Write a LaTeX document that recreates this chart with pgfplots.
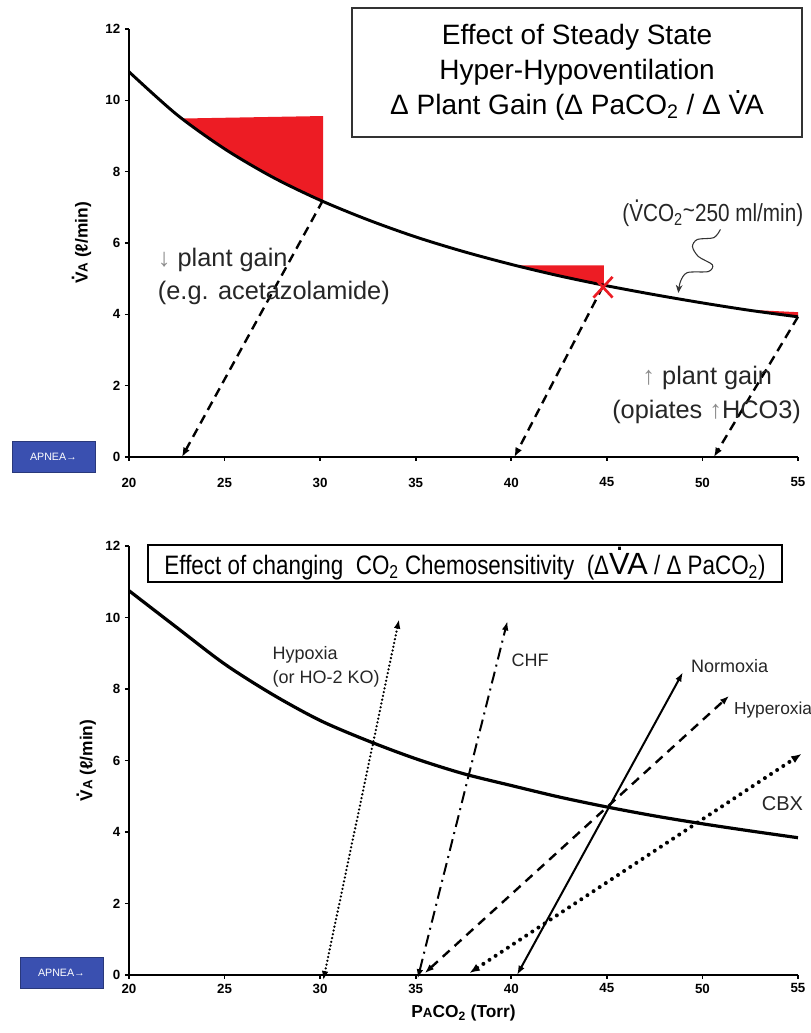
\documentclass[border=0pt]{standalone}
\usepackage{pgfplots}
\pgfplotsset{compat=1.18}
\usepackage{fontspec}
\setmainfont{Liberation Sans}
\newfontfamily\narrowfont[FakeStretch=0.84]{Liberation Sans}
\usetikzlibrary{arrows.meta}
\definecolor{apnea}{RGB}{58,80,176}
\definecolor{pgred}{RGB}{237,28,36}
\newcommand\Vd{\leavevmode\rlap{\hspace{0.2em}\raisebox{0.76em}{.}}V}
\newcommand\ga[1]{\textcolor{black!45}{#1}}
\pgfplotsset{
  myaxis/.style={
    scale only axis, width=501.75pt,
    xmin=20, xmax=55, ymin=0, ymax=12,
    xtick={20,25,...,55}, ytick={0,2,...,12},
    axis lines=left, axis line style={-, line width=1.5pt},
    tick align=outside, major tick length=3pt,
    tick style={line width=1.2pt, black},
    clip=false,
    /pgf/number format/assume math mode=true,
    tick label style={font=\bfseries\fontsize{10}{11}\selectfont},
  }
}
\begin{document}
\begin{tikzpicture}
\useasboundingbox[fill=white] (0,0) rectangle (608.25pt,774.75pt);
% ---------------- top panel ----------------
\begin{axis}[myaxis,
  at={(96.75pt,432pt)}, anchor=south west, height=321pt,
  xticklabel style={yshift=-9pt},
  ylabel={\Vd{\fontsize{10}{11}\selectfont A} (ℓ/min)},
  every axis y label/.style={at={(axis description cs:-0.071,0.5)},rotate=90,anchor=center,font=\bfseries\fontsize{13}{14}\selectfont},
]
% red areas
\addplot[fill=pgred, draw=none] coordinates {(22.8,9.49) (30.15,9.56) (30.15,7.17) (29,7.45) (28,7.71) (27,8.0) (26,8.31) (25,8.64) (24,9.0) (23,9.39)};
\addplot[fill=pgred, draw=none] coordinates {(40.2,5.37) (44.85,5.37) (44.85,4.82) (44,4.91) (43,5.02) (42,5.14) (41,5.27)};
\addplot[fill=pgred, draw=none] coordinates {(52.7,4.12) (55,4.06) (55,3.93) (54,4.0) (53,4.08)};
% curve
\addplot[smooth, line width=2.2pt] coordinates {(20,10.8) (22.5,9.6) (25,8.64) (27.5,7.85) (30,7.2) (32.5,6.65) (35,6.17) (37.5,5.76) (40,5.4) (42.5,5.08) (45,4.8) (47.5,4.55) (50,4.32) (52.5,4.11) (55,3.93)};
% dashed arrows
\addplot[line width=1.8pt, dash pattern=on 7pt off 4.5pt, -{Latex[length=7pt,width=5.5pt]}] coordinates {(30.15,7.2) (22.77,0)};
\addplot[line width=1.8pt, dash pattern=on 7pt off 4.5pt, -{Latex[length=7pt,width=5.5pt]}] coordinates {(44.8,4.79) (40.16,0)};
\addplot[line width=1.8pt, dash pattern=on 7pt off 4.5pt, -{Latex[length=7pt,width=5.5pt]}] coordinates {(55,3.93) (50.6,0)};
% red X
\addplot[pgred, line width=2pt] coordinates {(44.3,5.05) (45.3,4.47)};
\addplot[pgred, line width=2pt] coordinates {(44.3,4.47) (45.3,5.05)};
% squiggle
\addplot[smooth, line width=0.8pt, black!80, -{Stealth[length=6pt,width=5pt]}] coordinates {(50.94,6.38) (50.6,6.15) (49.74,6.10) (49.48,5.90) (49.79,5.62) (50.52,5.39) (50.31,5.20) (49.21,5.17) (48.85,4.92) (48.74,4.60)};
% texts
\node[anchor=west, inner sep=0pt, font=\fontsize{19}{23}\selectfont, text=black!85] at (axis cs:21.5,5.53) {\ga{↓} plant gain};
\node[anchor=west, inner sep=0pt, font=\fontsize{19}{23}\selectfont, text=black!85] at (axis cs:21.5,4.6) {(e.g. acetazolamide)};
\node[anchor=west, inner sep=0pt, font=\fontsize{19}{23}\selectfont, text=black!85] at (axis cs:46.85,2.22) {\ga{↑} plant gain};
\node[anchor=west, inner sep=0pt, font=\fontsize{19}{23}\selectfont, text=black!85] at (axis cs:45.27,1.26) {(opiates \ga{↑}HCO3)};
\node[anchor=west, inner sep=0pt, font=\narrowfont\fontsize{18.5}{22}\selectfont, text=black!85] at (axis cs:45.8,6.84) {(\Vd CO\textsubscript{2}\raisebox{0.1em}{\textasciitilde}250 ml/min)};
\node[draw=black!80, line width=1.3pt, fill=white, minimum width=337.5pt, minimum height=96.75pt, align=center, inner sep=0pt, font=\fontsize{21}{26.25}\selectfont] at (axis cs:43.44,10.78) {Effect of Steady State\\Hyper-Hypoventilation\\Δ Plant Gain (Δ PaCO\textsubscript{2} / Δ \Vd A};
\end{axis}
% ---------------- bottom panel ----------------
\begin{axis}[myaxis,
  at={(96.75pt,43.5pt)}, anchor=south west, height=321.75pt,
  xlabel={P{\fontsize{10}{11}\selectfont A}CO\textsubscript{2} (Torr)},
  every axis x label/.style={at={(axis description cs:0.5,-0.088)},anchor=center,font=\bfseries\fontsize{13}{14}\selectfont},
  ylabel={\Vd{\fontsize{10}{11}\selectfont A} (ℓ/min)},
  every axis y label/.style={at={(axis description cs:-0.064,0.5)},rotate=90,anchor=center,font=\bfseries\fontsize{13}{14}\selectfont},
]
\addplot[smooth, line width=2.4pt] coordinates {(20,10.75) (22.5,9.72) (25,8.7) (27.5,7.85) (30,7.12) (32.5,6.55) (35,6.05) (37.5,5.63) (40,5.3) (42.5,4.98) (45,4.7) (47.5,4.45) (50,4.23) (52.5,4.03) (55,3.84)};
% hypoxia
\addplot[line width=1.9pt, line cap=round, dash pattern=on 0pt off 2.9pt, {Latex[length=7pt,width=5pt]}-{Latex[length=7pt,width=5pt]}] coordinates {(30.16,-0.15) (34.13,9.95)};
% CHF
\addplot[line width=1.5pt, dash pattern=on 9pt off 4pt on 1.5pt off 4pt, {Latex[length=7pt,width=5pt]}-{Latex[length=7pt,width=5pt]}] coordinates {(35.1,-0.1) (39.8,9.9)};
% normoxia
\addplot[line width=1.5pt, {Latex[length=7pt,width=5pt]}-{Latex[length=7pt,width=5pt]}] coordinates {(40.3,0) (48.98,8.47)};
% hyperoxia
\addplot[line width=1.8pt, dash pattern=on 7pt off 5pt, {Latex[length=7pt,width=5pt]}-{Latex[length=7pt,width=5pt]}] coordinates {(35.47,0.05) (51.4,7.81)};
% CBX
\addplot[line width=3pt, line cap=round, dash pattern=on 0pt off 5.5pt, {Latex[length=8pt,width=6pt]}-{Latex[length=8pt,width=6pt]}] coordinates {(37.8,0.05) (55.2,6.19)};
% labels
\node[anchor=west, inner sep=0pt, font=\fontsize{13.5}{17}\selectfont, text=black!85] at (axis cs:27.5,8.95) {Hypoxia};
\node[anchor=west, inner sep=0pt, font=\fontsize{13.5}{17}\selectfont, text=black!85] at (axis cs:27.5,8.28) {(or HO-2 KO)};
\node[anchor=west, inner sep=0pt, font=\fontsize{13.5}{17}\selectfont, text=black!85] at (axis cs:40.0,8.79) {CHF};
\node[anchor=west, inner sep=0pt, font=\fontsize{13.5}{17}\selectfont, text=black!85] at (axis cs:49.4,8.65) {Normoxia};
\node[anchor=west, inner sep=0pt, font=\fontsize{13}{17}\selectfont, text=black!85] at (axis cs:51.64,7.4) {Hyperoxia};
\node[anchor=west, inner sep=0pt, font=\fontsize{15}{18}\selectfont, text=black!85] at (axis cs:53.1,4.79) {CBX};
\node[draw=black, line width=2pt, fill=white, minimum width=475.5pt, minimum height=27.75pt, inner sep=0pt, font=\narrowfont\fontsize{20}{22}\selectfont] at (axis cs:37.58,11.51) {Effect of changing\ \ CO\textsubscript{2} Chemosensitivity\ \ (Δ{\rmfamily\fontsize{23}{24}\selectfont\Vd A} / Δ PaCO\textsubscript{2})};
\end{axis}
% APNEA boxes
\node[fill=apnea, draw=apnea!70!black, line width=0.4pt, minimum width=62.25pt, minimum height=23.25pt, inner sep=0pt, text=white, font=\fontsize{8}{9}\selectfont] at (40.1pt,432.4pt) {APNEA→};
\node[fill=apnea, draw=apnea!70!black, line width=0.4pt, minimum width=62.25pt, minimum height=23.25pt, inner sep=0pt, text=white, font=\fontsize{8}{9}\selectfont] at (46.1pt,45pt) {APNEA→};
\end{tikzpicture}
\end{document}
